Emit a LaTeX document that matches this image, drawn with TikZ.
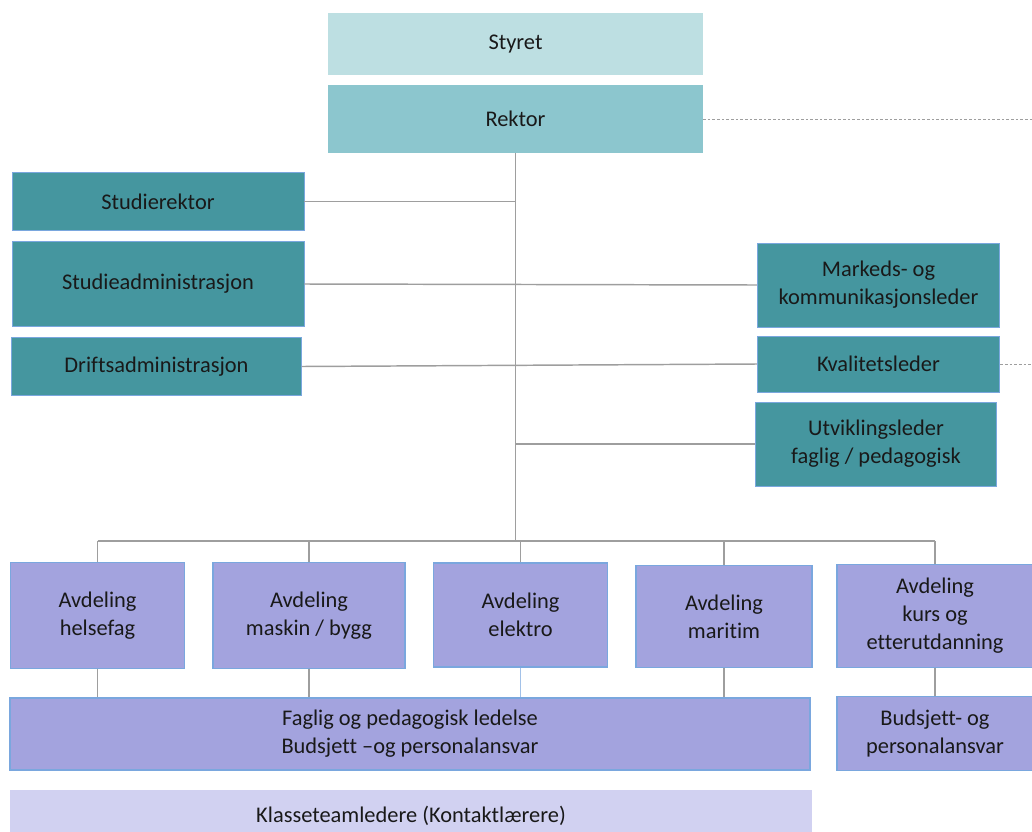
\documentclass[tikz,border=0pt]{standalone}
\usepackage{fontspec}
\setmainfont{Carlito}[Ligatures={NoCommon}]
\usetikzlibrary{positioning}

\definecolor{styrefill}{HTML}{BDDFE2}
\definecolor{rektorfill}{HTML}{8CC6CE}
\definecolor{stabfill}{HTML}{45969F}
\definecolor{avdfill}{HTML}{A3A3DE}
\definecolor{klassefill}{HTML}{D1D1F1}
\definecolor{kant}{HTML}{7AA7DE}
\definecolor{linje}{HTML}{9E9E9E}

\begin{document}
\begin{tikzpicture}[x = 0.75pt, y = -0.75pt]
            \tikzstyle{boks} = [inner sep=0pt, align=center, text=black!90, font=\fontsize{16.8}{21}\selectfont]
            \tikzstyle{topp} = [boks]
            \tikzstyle{stab} = [boks, fill=stabfill, draw=kant, line width=0.6pt]
            \tikzstyle{avd} = [boks, fill=avdfill, draw=kant, line width=0.8pt]
            \tikzstyle{linje} = [draw=linje, line width=1.1pt]
            \tikzstyle{stiplet} = [draw=linje, line width=0.7pt, dash pattern=on 2pt off 1.5pt]

            \clip (0, 0) rectangle (1032, 832);

            % ledelse
            \node[topp, fill=styrefill, minimum width=281pt, minimum height=46pt] (styret) at (515.5, 44) {Styret};
            \node[topp, fill=rektorfill, minimum width=281pt, minimum height=51pt] (rektor) at (515.5, 119) {Rektor};

            % stab
            \node[stab, minimum width=219pt, minimum height=43pt] (studierektor) at (158, 201.5) {Studierektor};
            \node[stab, minimum width=219pt, minimum height=64pt] (studieadm) at (158, 284) {Studieadministrasjon};
            \node[stab, minimum width=217pt, minimum height=43pt] (drift) at (156.5, 366.5) {Driftsadministrasjon};
            \node[stab, minimum width=182pt, minimum height=63pt] (marked) at (878.5, 285) {Markeds- og\\kommunikasjonsleder};
            \node[stab, minimum width=182pt, minimum height=42pt] (kvalitet) at (878.5, 364) {Kvalitetsleder};
            \node[stab, minimum width=181pt, minimum height=63pt] (utvikling) at (876, 444) {Utviklingsleder\\faglig / pedagogisk};

            % avdelinger
            \node[avd, minimum width=131pt, minimum height=79pt] (helse) at (97.5, 615.5) {Avdeling\\helsefag};
            \node[avd, minimum width=144pt, minimum height=79pt] (maskin) at (309, 615.5) {Avdeling\\maskin / bygg};
            \node[avd, minimum width=131pt, minimum height=78pt] (elektro) at (520.5, 615) {Avdeling\\elektro};
            \node[avd, minimum width=132pt, minimum height=77pt] (maritim) at (724, 616.5) {Avdeling\\maritim};
            \node[avd, minimum width=147pt, minimum height=77pt] (kurs) at (935, 616) {Avdeling\\kurs og\\etterutdanning};

            \node[avd, minimum width=600pt, minimum height=54pt] (faglig) at (410, 734) {Faglig og pedagogisk ledelse\\Budsjett --og personalansvar};
            \node[avd, minimum width=147pt, minimum height=55pt] (budsjett) at (935, 733.5) {Budsjett- og\\personalansvar};
            \node[boks, fill=klassefill, minimum width=602pt, minimum height=39pt] (klasse) at (411, 816) {Klasseteamledere (Kontaktlærere)};

            % linjer
            \coordinate (buss) at (0, 541);
            \coordinate (rektorut) at (1032, 119);
            \coordinate (kvalitetut) at (1032, 364);

            \draw [stiplet] (rektor.east) -- (rektorut);
            \draw [stiplet] (kvalitet.east) -- (kvalitetut);

            \draw [linje] (rektor.south) -- (rektor.south |- buss);
            \draw [linje] (studierektor.east) -- (studierektor.east -| rektor.south);
            \draw [linje] (studieadm.east) -- (marked.west);
            \draw [linje] (drift.east) -- (kvalitet.west);
            \draw [linje] (utvikling.west) -- (utvikling.west -| rektor.south);

            \draw [linje] (helse.north |- buss) -- (kurs.north |- buss);
            \foreach \avd in {helse, maskin, elektro, maritim, kurs}
                \draw [linje] (\avd.north) -- (\avd.north |- buss);

            \foreach \avd in {helse, maskin, maritim}
                \draw [linje] (\avd.south) -- (\avd.south |- faglig.north);
            \draw [linje, draw=kant!70] (elektro.south) -- (elektro.south |- faglig.north);
            \draw [linje] (kurs.south) -- (budsjett.north);

        \end{tikzpicture}
\end{document}
